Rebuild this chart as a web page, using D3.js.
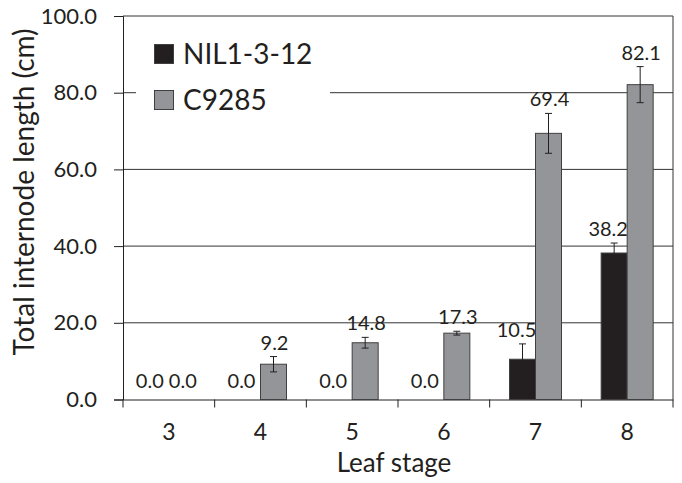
<!DOCTYPE html>
<html><head><meta charset="utf-8">
<script src="https://cdn.jsdelivr.net/npm/d3@7"></script>
<style>body{margin:0;background:#fff;} text{font-family:Lato,"Open Sans",sans-serif;fill:#231f20;}</style>
</head><body>
<svg id="c" width="682" height="483"></svg>
<script>
const categories = ["3","4","5","6","7","8"];
const seriesNames = ["NIL1-3-12","C9285"];
const nilValues = [0.0, 0.0, 0.0, 0.0, 10.5, 38.2];
const c9285Values = [0.0, 9.2, 14.8, 17.3, 69.4, 82.1];
const nilErrors = [0, 0, 0, 0, 4.0, 2.6];
const c9285Errors = [0, 2.0, 1.4, 0.5, 5.2, 4.7];
const yTicks = [0, 20, 40, 60, 80, 100];
const colors = ["#231f20", "#939598"];

(function(){
const svg = d3.select("#c");
const pL = 123, pR = 673, pT = 16, pB = 399.5;
const x = d3.scaleBand().domain(categories).range([pL, pR]).paddingInner(0).paddingOuter(0);
const y = d3.scaleLinear().domain([0, 100]).range([pB, pT]);
const bw = 26;

svg.append("g").selectAll("line").data(yTicks.filter(d => d > 0)).join("line")
  .attr("x1", pL).attr("x2", pR).attr("y1", d => y(d)).attr("y2", d => y(d))
  .attr("stroke", "#333").attr("stroke-width", 1);
svg.append("line").attr("x1", pR).attr("x2", pR).attr("y1", pT).attr("y2", pB)
  .attr("stroke", "#333");

const yAxis = d3.axisLeft(y).tickValues(yTicks).tickFormat(d3.format(".1f")).tickSize(9).tickPadding(17);
const ya = svg.append("g").attr("transform", `translate(${pL},0)`).call(yAxis);
ya.select(".domain").attr("stroke", "#231f20");
ya.selectAll(".tick line").attr("stroke", "#231f20");
ya.selectAll("text").style("font-size", "22px").attr("fill", "#231f20");

const xa = svg.append("g").attr("transform", `translate(0,${pB})`)
  .call(d3.axisBottom(x).tickSize(0).tickPadding(24));
xa.select(".domain").attr("stroke", "#231f20");
xa.selectAll("text").style("font-size", "23px").attr("fill", "#231f20");
svg.append("g").selectAll("line").data(categories.concat(["end"])).join("line")
  .attr("x1", (d, i) => i < categories.length ? x(d) : pR)
  .attr("x2", (d, i) => i < categories.length ? x(d) : pR)
  .attr("y1", pB).attr("y2", pB + 8).attr("stroke", "#231f20");

const series = [
  {name: seriesNames[0], vals: nilValues, errs: nilErrors, off: -bw, color: colors[0], ldx: -6},
  {name: seriesNames[1], vals: c9285Values, errs: c9285Errors, off: 0, color: colors[1], ldx: 1}
];
series.forEach(s => {
  const g = svg.append("g");
  categories.forEach((c, i) => {
    const v = s.vals[i], e = s.errs[i];
    const cx = x(c) + x.bandwidth() / 2 + s.off;
    if (v > 0) {
      g.append("rect").attr("x", cx).attr("y", y(v)).attr("width", bw).attr("height", y(0) - y(v))
        .attr("fill", s.color).attr("stroke", "#404040").attr("stroke-width", 1);
    }
    const mx = cx + bw / 2;
    if (e > 0) {
      g.append("line").attr("x1", mx).attr("x2", mx).attr("y1", y(v + e)).attr("y2", y(v - e)).attr("stroke", "#231f20");
      [v + e, v - e].forEach(t => g.append("line").attr("x1", mx - 3.5).attr("x2", mx + 3.5)
        .attr("y1", y(t)).attr("y2", y(t)).attr("stroke", "#231f20"));
    }
    const ly = (e > 0 ? y(v + e) - 7 : y(v) - 12);
    g.append("text").attr("x", mx + s.ldx).attr("y", ly).attr("text-anchor", "middle")
      .style("font-size", "20px").text(d3.format(".1f")(v));
  });
});

const lg = svg.append("g");
lg.append("rect").attr("x", 136).attr("y", 26).attr("width", 194).attr("height", 90).attr("fill", "#fff");
series.forEach((s, i) => {
  const yy = 44 + i * 46;
  lg.append("rect").attr("x", 154.5).attr("y", yy + 0.5).attr("width", 19).attr("height", 19)
    .attr("fill", s.color).attr("stroke", "#404040");
  lg.append("text").attr("x", 183).attr("y", yy + 19.5).style("font-size", "28px").text(s.name);
});

svg.append("text").attr("transform", "translate(34,192) rotate(-90)").attr("text-anchor", "middle")
  .style("font-size", "28px").text("Total internode length (cm)");
svg.append("text").attr("x", 394).attr("y", 472).attr("text-anchor", "middle")
  .style("font-size", "26px").text("Leaf stage");
})();
</script>
</body></html>
